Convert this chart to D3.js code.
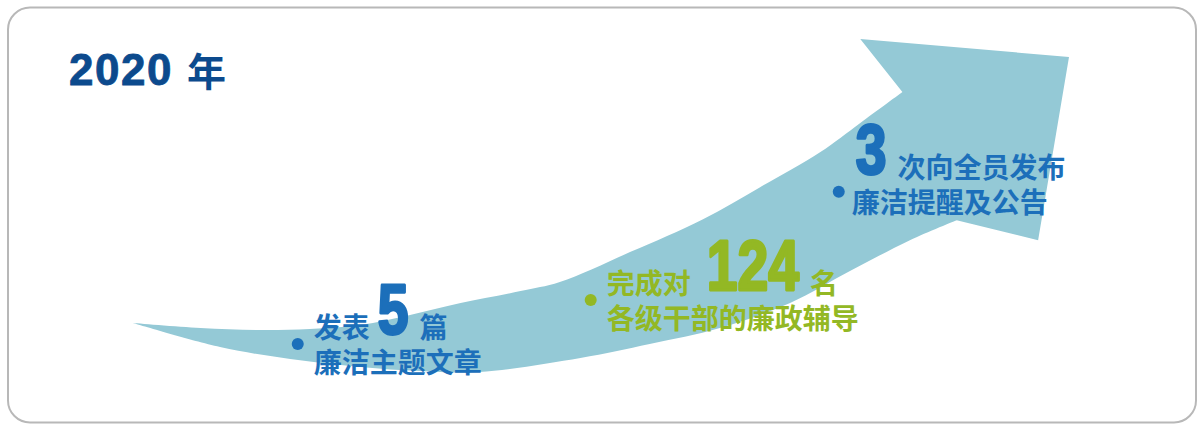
<!DOCTYPE html>
<html>
<head>
<meta charset="utf-8">
<script src="https://cdn.jsdelivr.net/npm/d3@7"></script>
<style>
    html, body { margin: 0; padding: 0; background: #fff; }
    svg { display: block; }
</style>
</head>
<body>
<div class="chart-container"></div>
<script>
// key figures of the year
const yearLabel = "2020";
const yearUnit = "年";
const statValues = [5, 124, 3];
const statPrefix = ["发表", "完成对", ""];
const statSuffix = ["篇", "名", "次向全员发布"];
const statLine2 = ["廉洁主题文章", "各级干部的廉政辅导", "廉洁提醒及公告"];
const statColors = ["#1c6fba", "#93b824", "#1c6fba"];

// arrow outline, in "progress" units (0..100 along x, 0..100 up)
const bandTop = [[0, 14.7], [7.2, 13.2], [13.6, 12.6], [18.9, 12.9], [24.3, 14.1], [29.6, 17.1],
    [35.0, 20.7], [41.4, 24.3], [45.6, 27.0], [53.1, 36.0], [60.9, 45.9], [67.0, 55.5],
    [73.4, 66.0], [77.7, 74.8], [82.2, 84.1]];
const bandBottom = [[0, 14.7], [9.3, 7.5], [16.8, 3.9], [24.3, 1.5], [30.6, 0.3], [37.0, 0],
    [47.8, 4.2], [55.2, 8.4], [62.7, 13.2], [70.2, 20.7], [76.6, 30.3], [83.0, 39.6], [88.0, 45.6]];
const arrowHead = [[77.7, 100], [100, 94.6], [96.7, 39.6]];

// dot anchor of each stat, same units
const statAnchors = [[17.6, 8.4], [48.9, 21.6], [75.4, 54.1]];

const W = 1197, H = 425;

const svg = d3.select(".chart-container")
    .append("svg")
    .attr("width", W)
    .attr("height", H);

svg.append("rect")
    .attr("x", 8)
    .attr("y", 7.5)
    .attr("width", 1188)
    .attr("height", 415)
    .attr("rx", 22)
    .attr("fill", "#fff")
    .attr("stroke", "#b8b8b8")
    .attr("stroke-width", 2);

const xScale = d3.scaleLinear().domain([0, 100]).range([133, 1069]);
const yScale = d3.scaleLinear().domain([0, 100]).range([372, 39]);

const edge = d3.line()
    .x(d => xScale(d[0]))
    .y(d => yScale(d[1]))
    .curve(d3.curveCatmullRom.alpha(0.5));

const straight = d3.line()
    .x(d => xScale(d[0]))
    .y(d => yScale(d[1]));

const topPath = edge(bandTop);
const headPath = straight(arrowHead).replace(/^M/, "L");
const bottomPath = edge(bandBottom.slice().reverse()).replace(/^M/, "L");

svg.append("path")
    .attr("d", topPath + headPath + bottomPath + "Z")
    .attr("fill", "#94c9d6");

// title
const title = svg.append("text")
    .attr("x", 69)
    .attr("y", 85)
    .attr("fill", "#0c4a8d")
    .attr("font-weight", "bold");

title.append("tspan")
    .attr("font-family", "'Liberation Sans', Arial, sans-serif")
    .attr("font-size", 44)
    .attr("letter-spacing", 1.5)
    .attr("stroke", "#0c4a8d")
    .attr("stroke-width", 0.8)
    .text(yearLabel);

title.append("tspan")
    .attr("x", 187)
    .attr("y", 86)
    .attr("font-family", "'Noto Sans CJK SC', sans-serif")
    .attr("font-size", 39)
    .text(yearUnit);

// stat blocks
const cjk = "'Noto Sans CJK SC', 'Noto Sans CJK JP', sans-serif";
const digitFont = "'Liberation Sans', Arial, sans-serif";
const cjkSize = 28;
const digitSize = 70;
const digitSquash = 0.79;
const numberGap = [7, 15, 0];

statValues.forEach((value, i) => {
    const ax = xScale(statAnchors[i][0]);
    const ay = yScale(statAnchors[i][1]);
    const color = statColors[i];
    const g = svg.append("g").attr("transform", `translate(${ax}, ${ay})`);

    g.append("circle")
        .attr("r", 6)
        .attr("fill", color);

    // first line: prefix, big number, suffix
    let cx = 16;
    const line1Y = i === 2 ? -14 : -6;

    if (statPrefix[i]) {
        g.append("text")
            .attr("x", cx)
            .attr("y", line1Y)
            .attr("font-family", cjk)
            .attr("font-size", cjkSize)
            .attr("font-weight", "bold")
            .attr("fill", color)
            .text(statPrefix[i]);
        cx += statPrefix[i].length * cjkSize;
    }
    cx += numberGap[i];

    const num = g.append("text")
        .attr("transform", `translate(${cx + 1}, ${line1Y - 4}) scale(${digitSquash}, 1)`)
        .attr("font-family", digitFont)
        .attr("font-size", digitSize)
        .attr("font-weight", "bold")
        .attr("fill", color)
        .attr("stroke", color)
        .attr("stroke-width", 3)
        .attr("stroke-linejoin", "round")
        .text(value);

    const numWidth = num.node().getComputedTextLength() * digitSquash;
    cx += numWidth + 12;

    g.append("text")
        .attr("x", cx)
        .attr("y", line1Y)
        .attr("font-family", cjk)
        .attr("font-size", cjkSize)
        .attr("font-weight", "bold")
        .attr("fill", color)
        .text(statSuffix[i]);

    // second line
    g.append("text")
        .attr("x", i === 2 ? 13 : 16)
        .attr("y", i === 2 ? 21 : 29)
        .attr("font-family", cjk)
        .attr("font-size", cjkSize)
        .attr("font-weight", "bold")
        .attr("fill", color)
        .text(statLine2[i]);
});
</script>
</body>
</html>
